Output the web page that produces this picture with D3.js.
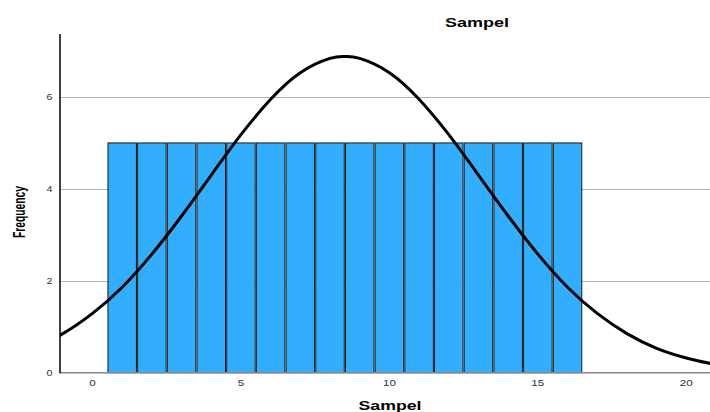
<!DOCTYPE html>
<html>
<head>
<meta charset="utf-8">
<script src="https://cdn.jsdelivr.net/npm/d3@7"></script>
<style>
  body { margin: 0; background: #fff; }
  text { font-family: "Liberation Sans", Arial, sans-serif; }
</style>
</head>
<body>
<div id="chart"></div>
<script>
// histogram bins (value centre) and their counts
var binCenters = [1, 2, 3, 4, 5, 6, 7, 8, 9, 10, 11, 12, 13, 14, 15, 16];
var binCounts = [5, 5, 5, 5, 5, 5, 5, 5, 5, 5, 5, 5, 5, 5, 5, 5];

// normal curve
var curveX = [-2, -1, 0, 1, 2, 3, 4, 5, 6, 7, 8, 8.5, 9, 10, 11, 12, 13, 14, 15, 16, 17, 18, 19, 20, 21, 22];
var curveY = [0.53, 0.85, 1.29, 1.86, 2.58, 3.41, 4.30, 5.18, 5.95, 6.53, 6.84, 6.88, 6.84, 6.53, 5.95, 5.18, 4.30, 3.41, 2.58, 1.86, 1.29, 0.85, 0.53, 0.32, 0.18, 0.10];

var xTicks = [0, 5, 10, 15, 20];
var yTicks = [0, 2, 4, 6];

var svgWidth = 710;
var svgHeight = 412;

var svg = d3.select("#chart")
  .append("svg")
  .attr("width", svgWidth)
  .attr("height", svgHeight);

var x = d3.scaleLinear()
  .domain([0, 20])
  .range([92.5, 686.3]);

var y = d3.scaleLinear()
  .domain([0, 6])
  .range([372.7, 97]);

var plotLeft = 60;
var plotRight = 712;
var plotTop = 34;

svg.append("clipPath").attr("id", "plot")
  .append("rect")
  .attr("x", plotLeft)
  .attr("y", 0)
  .attr("width", plotRight - plotLeft)
  .attr("height", y(0) + 1);

// gridlines
svg.append("g")
  .selectAll("line")
  .data(yTicks.filter(d => d > 0))
  .enter()
  .append("line")
  .attr("x1", plotLeft)
  .attr("x2", plotRight)
  .attr("y1", d => Math.round(y(d)) + 0.5)
  .attr("y2", d => Math.round(y(d)) + 0.5)
  .attr("stroke", "#b4b4b4")
  .attr("stroke-width", 1);

// bars
svg.append("g")
  .selectAll("rect")
  .data(binCenters)
  .enter()
  .append("rect")
  .attr("x", d => x(d - 0.5) + 0.6)
  .attr("y", (d, i) => y(binCounts[i]))
  .attr("width", d => x(d + 0.5) - x(d - 0.5) - 1.2)
  .attr("height", (d, i) => y(0) - y(binCounts[i]))
  .attr("fill", "#33aeff")
  .attr("stroke", "#1a1a1a")
  .attr("stroke-width", 1);

// x baseline
svg.append("line")
  .attr("x1", plotLeft)
  .attr("x2", plotRight)
  .attr("y1", y(0))
  .attr("y2", y(0))
  .attr("stroke", "#888")
  .attr("stroke-width", 1.5);

// normal curve
var line = d3.line()
  .x(d => x(d[0]))
  .y(d => y(d[1]))
  .curve(d3.curveNatural);

svg.append("path")
  .datum(curveX.map((d, i) => [d, curveY[i]]))
  .attr("clip-path", "url(#plot)")
  .attr("d", line)
  .attr("fill", "none")
  .attr("stroke", "#000")
  .attr("stroke-width", 3);

// y axis line
svg.append("line")
  .attr("x1", plotLeft)
  .attr("x2", plotLeft)
  .attr("y1", plotTop)
  .attr("y2", y(0) + 0.5)
  .attr("stroke", "#000")
  .attr("stroke-width", 1.5);

// tick labels
svg.append("g")
  .selectAll("text")
  .data(xTicks)
  .enter()
  .append("text")
  .attr("x", d => x(d))
  .attr("y", 385.5)
  .attr("text-anchor", "middle")
  .attr("font-size", 9)
  .attr("fill", "#333")
  .attr("textLength", d => String(d).length * 6.5)
  .attr("lengthAdjust", "spacingAndGlyphs")
  .text(d => d);

svg.append("g")
  .selectAll("text")
  .data(yTicks)
  .enter()
  .append("text")
  .attr("x", 52.5)
  .attr("y", d => y(d) + 3.2)
  .attr("text-anchor", "end")
  .attr("font-size", 9)
  .attr("fill", "#333")
  .attr("textLength", 6)
  .attr("lengthAdjust", "spacingAndGlyphs")
  .text(d => d);

// titles
svg.append("text")
  .attr("x", 477)
  .attr("y", 27)
  .attr("text-anchor", "middle")
  .attr("font-size", 12.5)
  .attr("font-weight", "bold")
  .attr("textLength", 64)
  .attr("lengthAdjust", "spacingAndGlyphs")
  .text("Sampel");

svg.append("text")
  .attr("x", 390)
  .attr("y", 410)
  .attr("text-anchor", "middle")
  .attr("font-size", 13)
  .attr("font-weight", "bold")
  .attr("textLength", 63)
  .attr("lengthAdjust", "spacingAndGlyphs")
  .text("Sampel");

svg.append("text")
  .attr("transform", "translate(24.5, 212) rotate(-90)")
  .attr("text-anchor", "middle")
  .attr("font-size", 17)
  .attr("font-weight", "bold")
  .attr("textLength", 52)
  .attr("lengthAdjust", "spacingAndGlyphs")
  .text("Frequency");
</script>
</body>
</html>
